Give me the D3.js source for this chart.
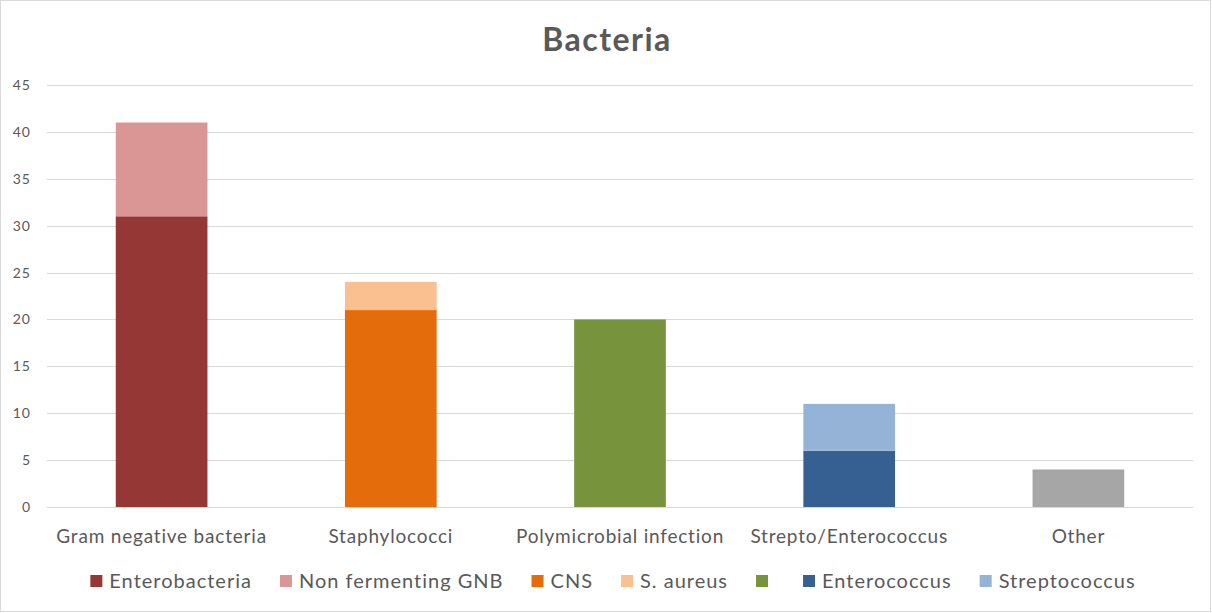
<!DOCTYPE html>
<html>
<head>
<meta charset="utf-8">
<script src="https://cdn.jsdelivr.net/npm/d3@7"></script>
<style>
  body { margin: 0; background: #fff; }
  text { font-family: Lato, "Open Sans", sans-serif; }
</style>
</head>
<body>
<div id="chart"></div>
<script>
// data
let categories = ["Gram negative bacteria", "Staphylococci", "Polymicrobial infection", "Strepto/Enterococcus", "Other"];
let seriesNames = ["Enterobacteria", "Non fermenting GNB", "CNS", "S. aureus", "", "Enterococcus", "Streptococcus", "Other"];
let seriesColors = ["#953735", "#D99694", "#E46C0A", "#FAC090", "#77933C", "#376092", "#95B3D7", "#A6A6A6"];
// one value per category for each series
let enterobacteria = [31, 0, 0, 0, 0];
let nonFermenting  = [10, 0, 0, 0, 0];
let cns            = [0, 21, 0, 0, 0];
let sAureus        = [0, 3, 0, 0, 0];
let polymicrobial  = [0, 0, 20, 0, 0];
let enterococcus   = [0, 0, 0, 6, 0];
let streptococcus  = [0, 0, 0, 5, 0];
let other          = [0, 0, 0, 0, 4];
let yTicks = [0, 5, 10, 15, 20, 25, 30, 35, 40, 45];
let legendCount = 7; // grey "Other" series has no legend entry

let width = 1212;
let height = 613;
let margin = { top: 85, right: 19, bottom: 106, left: 47 };

let allSeries = [enterobacteria, nonFermenting, cns, sAureus, polymicrobial, enterococcus, streptococcus, other];

let rows = categories.map(function (c, i) {
  let row = { cat: c };
  allSeries.forEach(function (s, k) { row["s" + k] = s[i]; });
  return row;
});
let keys = allSeries.map(function (s, k) { return "s" + k; });
let stacked = d3.stack().keys(keys)(rows);

let svg = d3.select("#chart")
  .append("svg")
  .attr("width", width)
  .attr("height", height);

// outer chart border
svg.append("rect")
  .attr("x", 0.5).attr("y", 0.5)
  .attr("width", width - 2).attr("height", height - 2)
  .attr("fill", "#fff")
  .attr("stroke", "#D9D9D9");

let xScale = d3.scaleBand()
  .domain(categories)
  .range([margin.left, width - margin.right]);

let yScale = d3.scaleLinear()
  .domain([0, 45])
  .range([height - margin.bottom, margin.top]);

// gridlines
svg.append("g")
  .selectAll("line")
  .data(yTicks)
  .enter()
  .append("line")
  .attr("x1", margin.left)
  .attr("x2", width - margin.right)
  .attr("y1", function (d) { return Math.round(yScale(d)) + 0.5; })
  .attr("y2", function (d) { return Math.round(yScale(d)) + 0.5; })
  .attr("stroke", "#D9D9D9")
  .attr("stroke-width", 1);

// y axis labels
let yAxis = d3.axisLeft(yScale).tickValues(yTicks).tickSize(0).tickPadding(0);
let yG = svg.append("g")
  .attr("transform", "translate(" + (margin.left - 16) + ",0)")
  .call(yAxis);
yG.select(".domain").remove();
yG.selectAll("text")
  .attr("fill", "#595959")
  .style("font-size", "14px")
  .style("letter-spacing", "1px")
  .style("font-family", "Lato, 'Open Sans', sans-serif");

// bars
let barW = xScale.bandwidth() * 0.4;
svg.append("g")
  .selectAll("g")
  .data(stacked)
  .enter()
  .append("g")
  .attr("fill", function (d, k) { return seriesColors[k]; })
  .selectAll("rect")
  .data(function (d) { return d; })
  .enter()
  .filter(function (d) { return d[1] - d[0] > 0; })
  .append("rect")
  .attr("x", function (d) { return xScale(d.data.cat) + (xScale.bandwidth() - barW) / 2; })
  .attr("y", function (d) { return yScale(d[1]); })
  .attr("width", barW)
  .attr("height", function (d) { return yScale(d[0]) - yScale(d[1]); });

// x axis labels
let xAxis = d3.axisBottom(xScale).tickSize(0).tickPadding(0);
let xG = svg.append("g")
  .attr("transform", "translate(0," + (height - margin.bottom + 22) + ")")
  .call(xAxis);
xG.select(".domain").remove();
xG.selectAll("text")
  .attr("fill", "#595959")
  .style("font-size", "19px")
  .style("letter-spacing", "0.8px")
  .style("font-family", "Lato, 'Open Sans', sans-serif");

// title
svg.append("text")
  .attr("x", width / 2 + 1)
  .attr("y", 51)
  .attr("text-anchor", "middle")
  .attr("fill", "#595959")
  .style("font-size", "32px")
  .style("letter-spacing", "1.5px")
  .style("font-weight", "bold")
  .text("Bacteria");

// legend
let legend = svg.append("g");
let lx = 0;
for (let k = 0; k < legendCount; k++) {
  let item = legend.append("g").attr("transform", "translate(" + lx + ",0)");
  item.append("rect")
    .attr("x", 0).attr("y", -13)
    .attr("width", 12).attr("height", 12)
    .attr("fill", seriesColors[k]);
  let t = item.append("text")
    .attr("x", 19)
    .attr("y", 0)
    .attr("fill", "#595959")
    .style("font-size", "20px")
    .style("letter-spacing", "1px")
    .text(seriesNames[k]);
  let tw = seriesNames[k] ? t.node().getComputedTextLength() : 0;
  lx += 19 + tw + 28;
}
lx -= 28;
legend.attr("transform", "translate(" + ((width - lx) / 2 + 7) + ",588)");
</script>
</body>
</html>
